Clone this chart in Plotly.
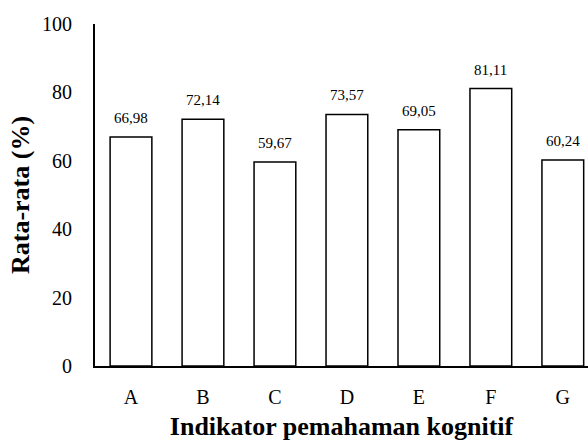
import plotly.graph_objects as go

categories = ["A", "B", "C", "D", "E", "F", "G"]
values = [66.98, 72.14, 59.67, 73.57, 69.05, 81.11, 60.24]
y_ticks = [0, 20, 40, 60, 80, 100]

labels = [f"{v:.2f}".replace(".", ",") for v in values]
FONT = "Liberation Serif, Times New Roman, Times, serif"

fig = go.Figure(go.Bar(
    x=categories, y=values,
    marker=dict(color="white", line=dict(color="black", width=1.5)),
    width=0.58,
))
for c, v, t in zip(categories, values, labels):
    fig.add_annotation(x=c, y=v, text=t, showarrow=False, yanchor="bottom",
                       yshift=9, font=dict(family=FONT, size=15, color="black"))

fig.update_layout(
    width=588, height=441,
    margin=dict(l=95, r=0, t=24, b=75),
    plot_bgcolor="white", paper_bgcolor="white",
    showlegend=False,
    font=dict(family=FONT, color="black"),
)
fig.update_xaxes(
    range=[-0.5, 6.35], showline=True, linecolor="black", linewidth=2,
    ticks="", tickfont=dict(family=FONT, size=20), ticklabelstandoff=12,
    title=dict(text="Indikator pemahaman kognitif",
               font=dict(family=FONT, size=26, weight="bold"), standoff=12),
    showgrid=False, automargin=False,
)
fig.update_yaxes(
    range=[0, 100], tickvals=y_ticks, showline=True, linecolor="black", linewidth=2,
    ticks="", tickfont=dict(family=FONT, size=20), ticklabelstandoff=17,
    title=dict(text="Rata-rata (%)",
               font=dict(family=FONT, size=26, weight="bold"), standoff=5),
    showgrid=False, zeroline=False, automargin=False,
)
fig.write_html("out.html", config={"displayModeBar": False},
               post_script="document.body.style.margin='0';")
